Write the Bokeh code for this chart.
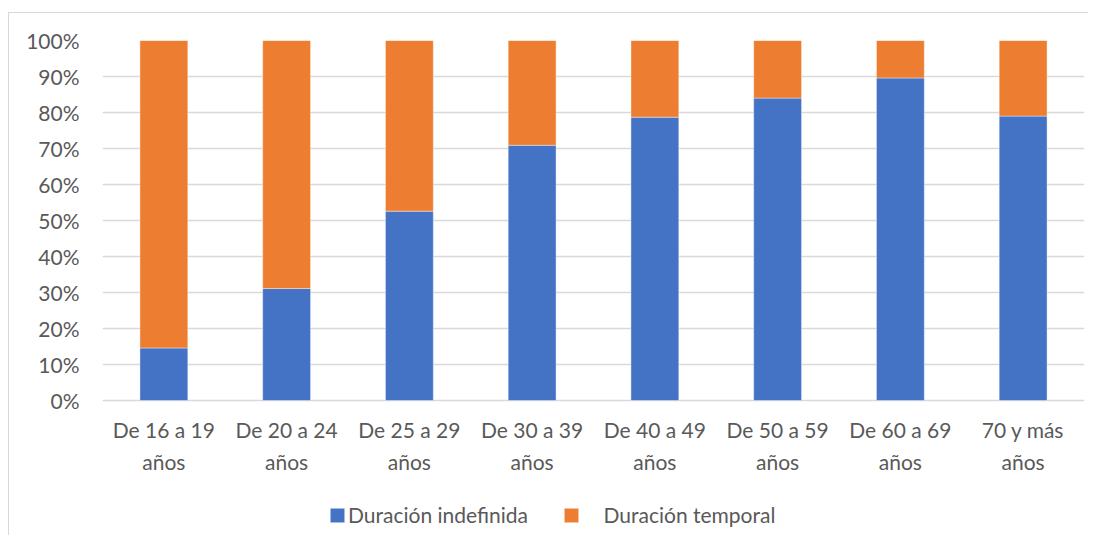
from bokeh.plotting import figure
from bokeh.models import FactorRange, Range1d, NumeralTickFormatter, Legend, LegendItem, FixedTicker
from bokeh.embed import file_html
from bokeh.resources import INLINE

categories = ["De 16 a 19\naños", "De 20 a 24\naños", "De 25 a 29\naños", "De 30 a 39\naños",
              "De 40 a 49\naños", "De 50 a 59\naños", "De 60 a 69\naños", "70 y más\naños"]
indefinida = [0.146, 0.311, 0.526, 0.709, 0.787, 0.840, 0.896, 0.790]
temporal = [0.854, 0.689, 0.474, 0.291, 0.213, 0.160, 0.104, 0.210]
series = ["Duración indefinida", "Duración temporal"]
colors = ["#4472C4", "#ED7D31"]
y_ticks = [0.0, 0.1, 0.2, 0.3, 0.4, 0.5, 0.6, 0.7, 0.8, 0.9, 1.0]

FONT = "Lato"
TXT = "#595959"

p = figure(x_range=FactorRange(*categories, range_padding=0), y_range=Range1d(-0.375, 1),
           frame_width=982, frame_height=495, min_border_left=93, min_border_top=27,
           min_border_right=4, min_border_bottom=0,
           output_backend="svg", toolbar_location=None, background_fill_color="white")
p.margin = (12, 0, 0, 8)
p.styles = {"border-top": "1px solid #d9d9d9", "border-left": "1px solid #d9d9d9"}

data = {"cat": categories, series[0]: indefinida, series[1]: temporal}
r = p.vbar_stack(series, x="cat", width=0.39, source=data, color=colors,
                 line_color="white", line_width=1, line_alpha=0.4)

p.outline_line_color = None
p.xgrid.grid_line_color = None
p.ygrid.grid_line_color = "#d9d9d9"
p.ygrid.grid_line_width = 1.5
p.yaxis.ticker = FixedTicker(ticks=y_ticks)
p.yaxis.formatter = NumeralTickFormatter(format="0%")
for ax in (p.xaxis[0], p.yaxis[0]):
    ax.axis_line_color = None
    ax.major_tick_line_color = None
    ax.minor_tick_line_color = None
    ax.major_label_text_font = FONT
    ax.major_label_text_font_size = "21px"
    ax.major_label_text_color = TXT
p.yaxis.major_label_standoff = 17
p.xaxis.fixed_location = 0
p.xaxis.major_label_standoff = 10
p.xaxis.major_label_text_line_height = 1.3

legend = Legend(items=[LegendItem(label=series[0], renderers=[r[0]]),
                       LegendItem(label="\u00a0\u00a0\u00a0\u00a0" + series[1], renderers=[r[1]])],
                orientation="horizontal", location=(226, 8),
                glyph_width=18, glyph_height=18, label_standoff=2, spacing=34,
                padding=0, margin=0, border_line_color=None, background_fill_alpha=0,
                label_text_font=FONT, label_text_font_size="21px", label_text_color=TXT)
p.add_layout(legend, "center")

open("out.html", "w").write(file_html(p, INLINE))
